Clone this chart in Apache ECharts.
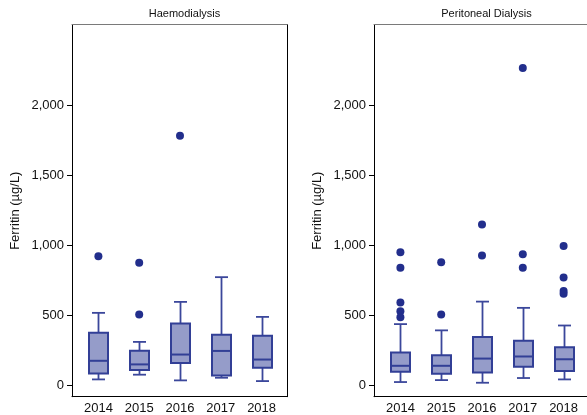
<!DOCTYPE html>
<html>
<head>
<meta charset="utf-8">
<script src="https://cdn.jsdelivr.net/npm/echarts@6/dist/echarts.min.js"></script>
<style>
html,body{margin:0;padding:0;background:#fff;}
#chart{width:587px;height:415px;}
</style>
</head>
<body>
<div id="chart"></div>
<script>
// ---- Data ----
const years = ['2014', '2015', '2016', '2017', '2018'];
const yTicks = [0, 500, 1000, 1500, 2000];

// Haemodialysis
const hdLow    = [26, 60, 19, 38, 14];
const hdQ1     = [69, 93, 145, 55, 110];
const hdMedian = [160, 134, 205, 231, 169];
const hdQ3     = [362, 233, 429, 348, 340];
const hdHigh   = [505, 296, 584, 762, 476];
const hdOutliers = [[912], [865, 493], [1779], [], []];

// Peritoneal Dialysis
const pdLow    = [7, 21, 2, 36, 26];
const pdQ1     = [81, 67, 76, 117, 86];
const pdMedian = [124, 124, 176, 191, 171];
const pdQ3     = [219, 200, 331, 305, 257];
const pdHigh   = [424, 379, 586, 541, 414];
const pdOutliers = [[941, 829, 579, 517, 474], [869, 493], [1141, 917], [2267, 926, 829], [986, 760, 662, 643]];

// ---- Styling ----
const FONT = 'Liberation Sans, Arial, sans-serif';
const Y_MIN = -79, Y_MAX = 2579;
const BOX_FILL = '#959cc9';
const BOX_LINE = '#323f96';
const WHISKER = '#3b479b';
const DOT = '#222e8c';

function boxData(lo, q1, med, q3, hi) {
  return years.map((y, i) => [i, lo[i], q1[i], med[i], q3[i], hi[i]]);
}
function outlierData(out) {
  const d = [];
  out.forEach((arr, i) => arr.forEach(v => d.push([i, v])));
  return d;
}
function renderBox(params, api) {
  const x = api.value(0);
  const lo = api.coord([x, api.value(1)]);
  const q1 = api.coord([x, api.value(2)]);
  const md = api.coord([x, api.value(3)]);
  const q3 = api.coord([x, api.value(4)]);
  const hi = api.coord([x, api.value(5)]);
  const cx = Math.round(lo[0]) + 0.5;
  const bw = 19, cw = 13;
  const wStyle = { stroke: WHISKER, lineWidth: 1.8 };
  return {
    type: 'group',
    children: [
      { type: 'line', shape: { x1: cx, y1: hi[1], x2: cx, y2: q3[1] }, style: wStyle },
      { type: 'line', shape: { x1: cx, y1: q1[1], x2: cx, y2: lo[1] }, style: wStyle },
      { type: 'line', shape: { x1: cx - cw / 2, y1: hi[1], x2: cx + cw / 2, y2: hi[1] }, style: wStyle },
      { type: 'line', shape: { x1: cx - cw / 2, y1: lo[1], x2: cx + cw / 2, y2: lo[1] }, style: wStyle },
      { type: 'rect', shape: { x: cx - bw / 2, y: q3[1], width: bw, height: q1[1] - q3[1] },
        style: { fill: BOX_FILL, stroke: BOX_LINE, lineWidth: 2 } },
      { type: 'line', shape: { x1: cx - bw / 2, y1: md[1], x2: cx + bw / 2, y2: md[1] },
        style: { stroke: BOX_LINE, lineWidth: 2 } }
    ]
  };
}

// panel geometry
const panels = [
  { title: 'Haemodialysis', frameLeft: 72, frameWidth: 215, innerLeft: 78, innerWidth: 204, rightEdge: true,
    box: boxData(hdLow, hdQ1, hdMedian, hdQ3, hdHigh), out: outlierData(hdOutliers) },
  { title: 'Peritoneal Dialysis', frameLeft: 374, frameWidth: 213, innerLeft: 380, innerWidth: 204, rightEdge: false,
    box: boxData(pdLow, pdQ1, pdMedian, pdQ3, pdHigh), out: outlierData(pdOutliers) }
];
const TOP = 24.7, HEIGHT = 372;

const grid = [], xAxis = [], yAxis = [], series = [], title = [];
panels.forEach((p, k) => {
  const gFrame = grid.length;
  grid.push({ left: p.frameLeft, top: TOP, width: p.frameWidth, height: HEIGHT, show: false });
  const gInner = grid.length;
  grid.push({ left: p.innerLeft, top: TOP, width: p.innerWidth, height: HEIGHT });

  title.push({ text: p.title, left: p.frameLeft + 215 / 2, top: 3, textAlign: 'center',
               textStyle: { fontFamily: FONT, fontSize: 11, fontWeight: 'normal', color: '#111' } });

  // frame axes
  xAxis.push({ gridIndex: gFrame, type: 'value', min: 0, max: 1, position: 'bottom',
               axisLine: { show: true, onZero: false, lineStyle: { color: '#000', width: 1 } },
               axisTick: { show: false }, axisLabel: { show: false }, splitLine: { show: false } });
  xAxis.push({ gridIndex: gFrame, type: 'value', min: 0, max: 1, position: 'top',
               axisLine: { show: true, onZero: false, lineStyle: { color: '#7a7a7a', width: 1 } },
               axisTick: { show: false }, axisLabel: { show: false }, splitLine: { show: false } });
  yAxis.push({ gridIndex: gFrame, type: 'value', min: Y_MIN, max: Y_MAX, position: 'left',
               name: 'Ferritin (µg/L)', nameLocation: 'middle', nameGap: 50,
               nameTextStyle: { fontFamily: FONT, fontSize: 13, color: '#111' },
               axisLine: { show: true, onZero: false, lineStyle: { color: '#000', width: 1 } },
               axisTick: { show: true, length: 5, lineStyle: { color: '#000' }, customValues: yTicks },
               axisLabel: { show: true, margin: 8, fontFamily: FONT, fontSize: 13, color: '#111',
                            customValues: yTicks,
                            formatter: v => Number(v).toLocaleString('en-US') },
               splitLine: { show: false } });
  yAxis.push({ gridIndex: gFrame, type: 'value', min: Y_MIN, max: Y_MAX, position: 'right',
               show: p.rightEdge,
               axisLine: { show: p.rightEdge, onZero: false, lineStyle: { color: '#000', width: 1 } },
               axisTick: { show: false }, axisLabel: { show: false }, splitLine: { show: false } });

  // inner axes
  const xi = xAxis.length;
  xAxis.push({ gridIndex: gInner, type: 'category', data: years, boundaryGap: true,
               axisLine: { show: false, onZero: false }, axisTick: { show: false },
               axisLabel: { show: true, margin: 8, fontFamily: FONT, fontSize: 13, color: '#111' },
               splitLine: { show: false } });
  const yi = yAxis.length;
  yAxis.push({ gridIndex: gInner, type: 'value', min: Y_MIN, max: Y_MAX, show: false });

  series.push({ type: 'custom', xAxisIndex: xi, yAxisIndex: yi, renderItem: renderBox,
                encode: { x: 0, y: [1, 2, 3, 4, 5] }, data: p.box, silent: true });
  series.push({ type: 'scatter', xAxisIndex: xi, yAxisIndex: yi, symbol: 'circle', symbolSize: 8,
                itemStyle: { color: DOT, opacity: 1 }, data: p.out, silent: true, z: 5 });
});

const chart = echarts.init(document.getElementById('chart'), null, { renderer: 'canvas' });
chart.setOption({
  animation: false,
  backgroundColor: '#fff',
  textStyle: { fontFamily: FONT },
  title, grid, xAxis, yAxis, series
});
</script>
</body>
</html>
